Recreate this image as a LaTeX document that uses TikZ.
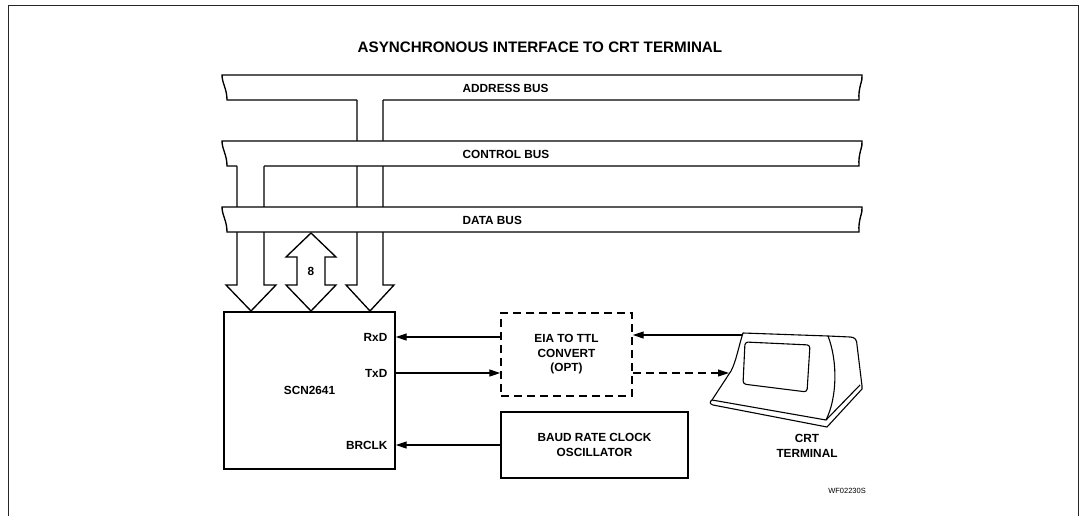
\documentclass[tikz,border=0pt]{standalone}
\usepackage{fontspec}
\setmainfont{Liberation Sans}
\usetikzlibrary{arrows.meta}

\newcommand{\lblfont}{\fontsize{11.8}{14.4}\selectfont\bfseries}
\newcommand{\busoutline}[2]{%
  \filldraw[fill=white] (#1,25) -- (5,25) .. controls (5,14) and (0,8) .. (0,0)
    -- (640,0) .. controls (641,6) and (636,12) .. (637,25) -- (#2,25);}

\tikzset{
  wire/.style={line width=1.1pt},
  sig/.style={wire,-{Triangle[length=11pt,width=7pt]}},
  unitbox/.style={draw,line width=1.4pt,inner sep=0pt,align=center,font=\lblfont},
  buslabel/.style={anchor=west,inner sep=0pt,font=\lblfont},
  pinlabel/.style={anchor=east,inner sep=0pt,font=\lblfont},
}

\begin{document}
\begin{tikzpicture}[x=1pt,y=-1pt,line width=1.35pt]
\useasboundingbox (0,0) rectangle (1084,516);
\draw[line width=0.9pt,black!85] (8,516) -- (8,5) -- (1078,5) -- (1078,516);

\node[font=\fontsize{15.2}{18}\selectfont\bfseries] (title) at (540,47)
  {ASYNCHRONOUS INTERFACE TO CRT TERMINAL};

% pipes and block arrows into the chip
\draw[line join=miter] (357,100) -- (357,285) -- (346,285) -- (370,311)
  -- (394,285) -- (383,285) -- (383,100);
\draw[line join=miter] (237,166) -- (237,285) -- (226,285) -- (251,311)
  -- (276,285) -- (264,285) -- (264,166);
\draw[line join=miter] (311,233) -- (336,257) -- (325,257) -- (325,285)
  -- (336,285) -- (311,311) -- (286,285) -- (297,285) -- (297,257)
  -- (286,257) -- cycle;
\node[font=\lblfont] (width) at (311,271) {8};

% buses
\begin{scope}[shift={(222,75)}]
  \busoutline{135}{161}
\end{scope}
\begin{scope}[shift={(222,141)}]
  \busoutline{15}{42}
\end{scope}
\begin{scope}[shift={(222,207)}]
  \busoutline{300}{300}
\end{scope}
\node[buslabel] (addrlbl) at (462,88) {ADDRESS BUS};
\node[buslabel] (ctrllbl) at (462,154) {CONTROL BUS};
\node[buslabel] (datalbl) at (462,220) {DATA BUS};

% chip, converter and oscillator
\node[unitbox,minimum width=171pt,minimum height=157pt] (scn) at (309.5,390.5) {SCN2641};
\node[pinlabel] (rxd) at (388,337) {RxD};
\node[pinlabel] (txd) at (388,373) {TxD};
\node[pinlabel] (brclk) at (388,445) {BRCLK};

\node[unitbox,dash pattern=on 8pt off 5pt,minimum width=131pt,minimum height=83pt]
  (eia) at (566.5,354.5) {EIA TO TTL\\CONVERT\\(OPT)};
\node[unitbox,minimum width=187pt,minimum height=66pt]
  (baud) at (594.5,445) {BAUD RATE CLOCK\\OSCILLATOR};

% terminal
\begin{scope}[line width=1.1pt,line join=round]
  \draw (712,400) -- (731,371) .. controls (736,362) and (739,345) .. (743,333)
    -- (828,336) -- (850,337) .. controls (855,337) and (857,340) .. (857,345)
    -- (862,386);
  \draw (828,336) .. controls (838,362) and (837,398) .. (826,420);
  \draw (712,400) -- (826,420) -- (860,385);
  \draw (712,400) .. controls (709,402) and (710,404) .. (713,405)
    -- (827,427) -- (862,389) -- (862,386);
  \draw[rounded corners=3pt] (745,342) -- (810,345) -- (807,392) -- (743,384) -- cycle;
\end{scope}
\coordinate (crttop) at (742,335);
\coordinate (crtin) at (729,373);
\node[font=\lblfont,align=center] (crtlbl) at (807,446) {CRT\\TERMINAL};

% signal lines
\draw[sig] (eia.west |- rxd) -- (scn.east |- rxd);
\draw[sig] (scn.east |- txd) -- (eia.west |- txd);
\draw[sig] (crttop) -- (eia.east |- crttop);
\draw[sig,dash pattern=on 8pt off 5pt] (eia.east |- txd) -- (crtin);
\draw[sig] (baud.west |- brclk) -- (scn.east |- brclk);

\node[font=\fontsize{7.5}{9}\selectfont] (wfnum) at (847,491) {WF02230S};
\end{tikzpicture}
\end{document}
